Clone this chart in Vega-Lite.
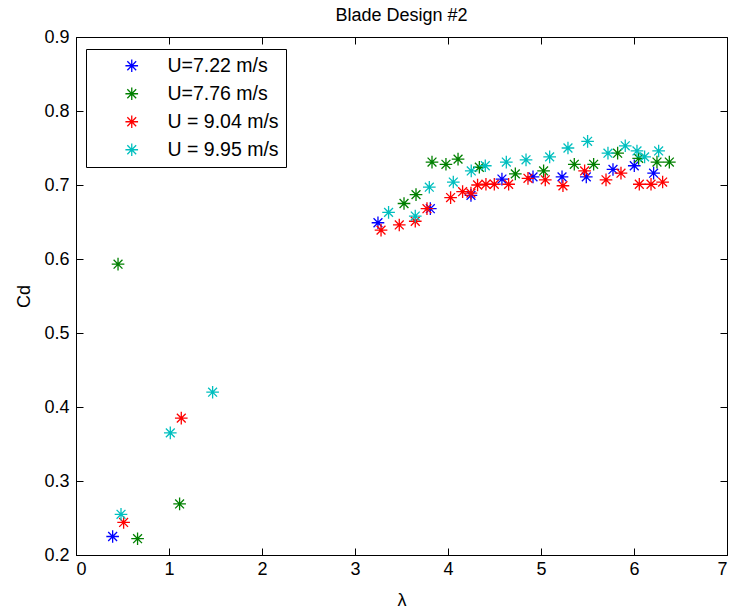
{
  "$schema": "https://vega.github.io/schema/vega-lite/v6.json",
  "autosize": "none",
  "width": 651,
  "height": 518,
  "padding": {"left": 76, "top": 37, "right": 3, "bottom": 56},
  "background": "white",
  "title": {"text": "Blade Design #2", "fontSize": 18, "fontWeight": "normal", "font": "Liberation Sans", "color": "black", "offset": 3},
  "config": {
    "view": {"stroke": "black", "strokeWidth": 1},
    "font": "Liberation Sans",
    "axis": {"grid": false, "domainColor": "black", "tickColor": "black", "labelColor": "black", "titleColor": "black", "labelFont": "Liberation Sans", "titleFont": "Liberation Sans", "labelFontSize": 18, "titleFontSize": 18, "titleFontWeight": "normal", "tickSize": -7}
  },
  "data": {"values": [
    {"u": "U=7.22 m/s", "x": 0.394, "y": 0.225},
    {"u": "U=7.22 m/s", "x": 3.247, "y": 0.649},
    {"u": "U=7.22 m/s", "x": 3.81, "y": 0.668},
    {"u": "U=7.22 m/s", "x": 4.247, "y": 0.686},
    {"u": "U=7.22 m/s", "x": 4.58, "y": 0.708},
    {"u": "U=7.22 m/s", "x": 4.914, "y": 0.711},
    {"u": "U=7.22 m/s", "x": 5.226, "y": 0.711},
    {"u": "U=7.22 m/s", "x": 5.487, "y": 0.711},
    {"u": "U=7.22 m/s", "x": 5.774, "y": 0.721},
    {"u": "U=7.22 m/s", "x": 6.003, "y": 0.726},
    {"u": "U=7.22 m/s", "x": 6.211, "y": 0.716},
    {"u": "U=7.76 m/s", "x": 0.452, "y": 0.593},
    {"u": "U=7.76 m/s", "x": 0.662, "y": 0.222},
    {"u": "U=7.76 m/s", "x": 1.114, "y": 0.269},
    {"u": "U=7.76 m/s", "x": 3.527, "y": 0.675},
    {"u": "U=7.76 m/s", "x": 3.656, "y": 0.687},
    {"u": "U=7.76 m/s", "x": 3.828, "y": 0.731},
    {"u": "U=7.76 m/s", "x": 3.978, "y": 0.728},
    {"u": "U=7.76 m/s", "x": 4.108, "y": 0.735},
    {"u": "U=7.76 m/s", "x": 4.337, "y": 0.724},
    {"u": "U=7.76 m/s", "x": 4.724, "y": 0.715},
    {"u": "U=7.76 m/s", "x": 5.028, "y": 0.719},
    {"u": "U=7.76 m/s", "x": 5.358, "y": 0.728},
    {"u": "U=7.76 m/s", "x": 5.566, "y": 0.728},
    {"u": "U=7.76 m/s", "x": 5.824, "y": 0.743},
    {"u": "U=7.76 m/s", "x": 6.05, "y": 0.736},
    {"u": "U=7.76 m/s", "x": 6.247, "y": 0.731},
    {"u": "U=7.76 m/s", "x": 6.38, "y": 0.731},
    {"u": "U = 9.04 m/s", "x": 0.512, "y": 0.244},
    {"u": "U = 9.04 m/s", "x": 1.132, "y": 0.385},
    {"u": "U = 9.04 m/s", "x": 3.28, "y": 0.639},
    {"u": "U = 9.04 m/s", "x": 3.476, "y": 0.646},
    {"u": "U = 9.04 m/s", "x": 3.648, "y": 0.651},
    {"u": "U = 9.04 m/s", "x": 3.774, "y": 0.668},
    {"u": "U = 9.04 m/s", "x": 4.028, "y": 0.683},
    {"u": "U = 9.04 m/s", "x": 4.157, "y": 0.691},
    {"u": "U = 9.04 m/s", "x": 4.247, "y": 0.689},
    {"u": "U = 9.04 m/s", "x": 4.318, "y": 0.700},
    {"u": "U = 9.04 m/s", "x": 4.408, "y": 0.701},
    {"u": "U = 9.04 m/s", "x": 4.498, "y": 0.701},
    {"u": "U = 9.04 m/s", "x": 4.652, "y": 0.701},
    {"u": "U = 9.04 m/s", "x": 4.86, "y": 0.709},
    {"u": "U = 9.04 m/s", "x": 5.046, "y": 0.707},
    {"u": "U = 9.04 m/s", "x": 5.236, "y": 0.699},
    {"u": "U = 9.04 m/s", "x": 5.469, "y": 0.719},
    {"u": "U = 9.04 m/s", "x": 5.699, "y": 0.707},
    {"u": "U = 9.04 m/s", "x": 5.86, "y": 0.716},
    {"u": "U = 9.04 m/s", "x": 6.057, "y": 0.701},
    {"u": "U = 9.04 m/s", "x": 6.183, "y": 0.701},
    {"u": "U = 9.04 m/s", "x": 6.308, "y": 0.704},
    {"u": "U = 9.95 m/s", "x": 0.484, "y": 0.255},
    {"u": "U = 9.95 m/s", "x": 1.014, "y": 0.365},
    {"u": "U = 9.95 m/s", "x": 1.469, "y": 0.420},
    {"u": "U = 9.95 m/s", "x": 3.361, "y": 0.663},
    {"u": "U = 9.95 m/s", "x": 3.648, "y": 0.658},
    {"u": "U = 9.95 m/s", "x": 3.799, "y": 0.697},
    {"u": "U = 9.95 m/s", "x": 4.057, "y": 0.704},
    {"u": "U = 9.95 m/s", "x": 4.25, "y": 0.719},
    {"u": "U = 9.95 m/s", "x": 4.401, "y": 0.726},
    {"u": "U = 9.95 m/s", "x": 4.627, "y": 0.731},
    {"u": "U = 9.95 m/s", "x": 4.839, "y": 0.734},
    {"u": "U = 9.95 m/s", "x": 5.093, "y": 0.738},
    {"u": "U = 9.95 m/s", "x": 5.29, "y": 0.750},
    {"u": "U = 9.95 m/s", "x": 5.501, "y": 0.759},
    {"u": "U = 9.95 m/s", "x": 5.72, "y": 0.743},
    {"u": "U = 9.95 m/s", "x": 5.906, "y": 0.753},
    {"u": "U = 9.95 m/s", "x": 6.032, "y": 0.746},
    {"u": "U = 9.95 m/s", "x": 6.114, "y": 0.738},
    {"u": "U = 9.95 m/s", "x": 6.265, "y": 0.746}
  ]},
  "layer": [
    {
      "mark": {"type": "point", "shape": "M-1,0H1M0,-1V1M-0.7,-0.7L0.7,0.7M-0.7,0.7L0.7,-0.7", "filled": false, "size": 160, "strokeWidth": 1.3, "opacity": 1},
      "encoding": {
        "x": {"field": "x", "type": "quantitative", "scale": {"domain": [0, 7], "nice": false, "zero": false}, "axis": {"title": "λ", "values": [0, 1, 2, 3, 4, 5, 6, 7], "format": "d", "labelPadding": 12, "titlePadding": 13}},
        "y": {"field": "y", "type": "quantitative", "scale": {"domain": [0.2, 0.9], "nice": false, "zero": false}, "axis": {"title": "Cd", "values": [0.2, 0.3, 0.4, 0.5, 0.6, 0.7, 0.8, 0.9], "format": ".1f", "labelPadding": 14, "titlePadding": 10}},
        "color": {"field": "u", "type": "nominal", "scale": {"domain": ["U=7.22 m/s", "U=7.76 m/s", "U = 9.04 m/s", "U = 9.95 m/s"], "range": ["#0000FF", "#008000", "#FF0000", "#00BFBF"]},
          "legend": {"title": null, "orient": "none", "legendX": 10, "legendY": 12, "strokeColor": "black", "fillColor": "white", "padding": 7, "labelFont": "Liberation Sans", "labelFontSize": 19.5, "labelColor": "black", "symbolOffset": 29, "labelOffset": 26, "rowPadding": 7, "symbolSize": 160, "symbolStrokeWidth": 1.3, "symbolType": "M-1,0H1M0,-1V1M-0.7,-0.7L0.7,0.7M-0.7,0.7L0.7,-0.7"}}
      }
    },
    {
      "mark": {"type": "point", "opacity": 0},
      "encoding": {
        "x": {"field": "x", "type": "quantitative", "axis": {"orient": "top", "title": null, "labels": false, "domain": false, "values": [0, 1, 2, 3, 4, 5, 6, 7]}},
        "y": {"field": "y", "type": "quantitative", "axis": {"orient": "right", "title": null, "labels": false, "domain": false, "values": [0.2, 0.3, 0.4, 0.5, 0.6, 0.7, 0.8, 0.9]}}
      }
    }
  ],
  "resolve": {"axis": {"x": "independent", "y": "independent"}}
}
